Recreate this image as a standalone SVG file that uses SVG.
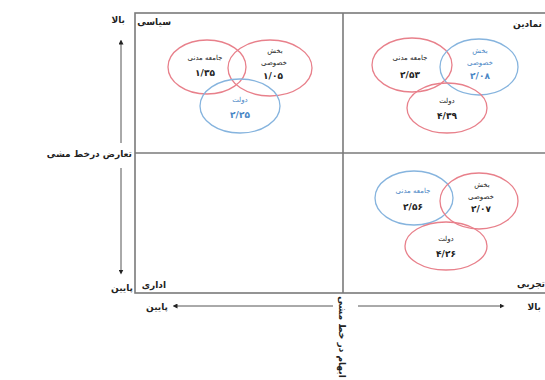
<svg xmlns="http://www.w3.org/2000/svg" width="545" height="380" viewBox="0 0 545 380">
<style>
  text { font-family: "DejaVu Sans", sans-serif; fill: #222; }
  .lab { font-size: 9px; font-weight: bold; }
  .cl { font-size: 7px; text-anchor: middle; }
  .num { font-size: 9px; font-weight: bold; text-anchor: middle; }
  .blue { fill: #4a86c5; }
  .frame { fill: none; stroke: #7a7a7a; stroke-width: 1.6; }
  .axis { stroke: #555; stroke-width: 1; fill: none; }
  .er { fill: none; stroke: #e8808b; stroke-width: 1.3; }
  .eb { fill: none; stroke: #86b4de; stroke-width: 1.3; }
</style>
<defs>
  <marker id="dot" viewBox="0 0 6 6" refX="3" refY="3" markerWidth="5" markerHeight="5" orient="auto">
    <path d="M0,0 L6,3 L0,6 z" fill="#222"/>
  </marker>
</defs>
<rect width="545" height="380" fill="#fff"/>

<g id="frame">
  <rect class="frame" x="135" y="13" width="412" height="280"/>
  <line class="frame" x1="343" y1="13" x2="343" y2="293"/>
  <line class="frame" x1="135" y1="153" x2="547" y2="153"/>
</g>

<g id="connectors">
  <line class="axis" x1="121" y1="143" x2="121" y2="42" marker-end="url(#dot)"/>
  <line class="axis" x1="121" y1="168" x2="121" y2="272" marker-end="url(#dot)"/>
  <line class="axis" x1="333" y1="306" x2="175" y2="306" marker-end="url(#dot)"/>
  <line class="axis" x1="358" y1="306" x2="502" y2="306" marker-end="url(#dot)"/>
</g>

<g id="axis-labels">
  <text class="lab" x="125" y="23" text-anchor="end">بالا</text>
  <text class="lab" x="133" y="291" text-anchor="end">پایین</text>
  <text class="lab" x="132" y="157" text-anchor="end">تعارض درخط مشی</text>
  <text class="lab" x="168" y="310" text-anchor="end">پایین</text>
  <text class="lab" x="541" y="310" text-anchor="end">بالا</text>
  <text class="lab" x="0" y="0" text-anchor="middle" transform="translate(339,337) rotate(90)">ابهام در خط مشی</text>
</g>

<g id="quadrant-labels">
  <text class="lab" x="171" y="25" text-anchor="end">سیاسی</text>
  <text class="lab" x="542" y="27" text-anchor="end">نمادین</text>
  <text class="lab" x="166" y="288" text-anchor="end">اداری</text>
  <text class="lab" x="545" y="287" text-anchor="end">تجربی</text>
</g>

<g id="venn-political">
  <g id="p-civil">
    <ellipse class="er" cx="207" cy="67" rx="39" ry="27"/>
    <text class="cl" x="205" y="60">جامعه مدنی</text>
    <text class="num" x="205" y="76">۱/۳۵</text>
  </g>
  <g id="p-private">
    <ellipse class="er" cx="270" cy="68" rx="42" ry="28"/>
    <text class="cl" x="275" y="53">بخش</text>
    <text class="cl" x="274" y="65">خصوصی</text>
    <text class="num" x="273" y="79">۱/۰۵</text>
  </g>
  <g id="p-gov">
    <ellipse class="eb" cx="240" cy="106" rx="40" ry="27"/>
    <text class="cl blue" x="240" y="102">دولت</text>
    <text class="num blue" x="240" y="118">۲/۲۵</text>
  </g>
</g>

<g id="venn-symbolic">
  <g id="s-civil">
    <ellipse class="er" cx="412" cy="65" rx="40" ry="27"/>
    <text class="cl" x="410" y="60">جامعه مدنی</text>
    <text class="num" x="410" y="78">۲/۵۳</text>
  </g>
  <g id="s-private">
    <ellipse class="eb" cx="479" cy="67" rx="39" ry="28"/>
    <text class="cl blue" x="480" y="53">بخش</text>
    <text class="cl blue" x="480" y="65">خصوصی</text>
    <text class="num blue" x="480" y="79">۲/۰۸</text>
  </g>
  <g id="s-gov">
    <ellipse class="er" cx="447" cy="108" rx="40" ry="25"/>
    <text class="cl" x="447" y="103">دولت</text>
    <text class="num" x="447" y="119">۴/۳۹</text>
  </g>
</g>

<g id="venn-experimental">
  <g id="e-civil">
    <ellipse class="eb" cx="414" cy="198" rx="39" ry="27"/>
    <text class="cl blue" x="413" y="193">جامعه مدنی</text>
    <text class="num" x="413" y="210">۲/۵۶</text>
  </g>
  <g id="e-private">
    <ellipse class="er" cx="479" cy="201" rx="39" ry="28"/>
    <text class="cl" x="482" y="187">بخش</text>
    <text class="cl" x="481" y="199">خصوصی</text>
    <text class="num" x="481" y="212">۲/۰۷</text>
  </g>
  <g id="e-gov">
    <ellipse class="er" cx="446" cy="246" rx="41" ry="24"/>
    <text class="cl" x="446" y="241">دولت</text>
    <text class="num" x="446" y="257">۴/۲۶</text>
  </g>
</g>
</svg>
